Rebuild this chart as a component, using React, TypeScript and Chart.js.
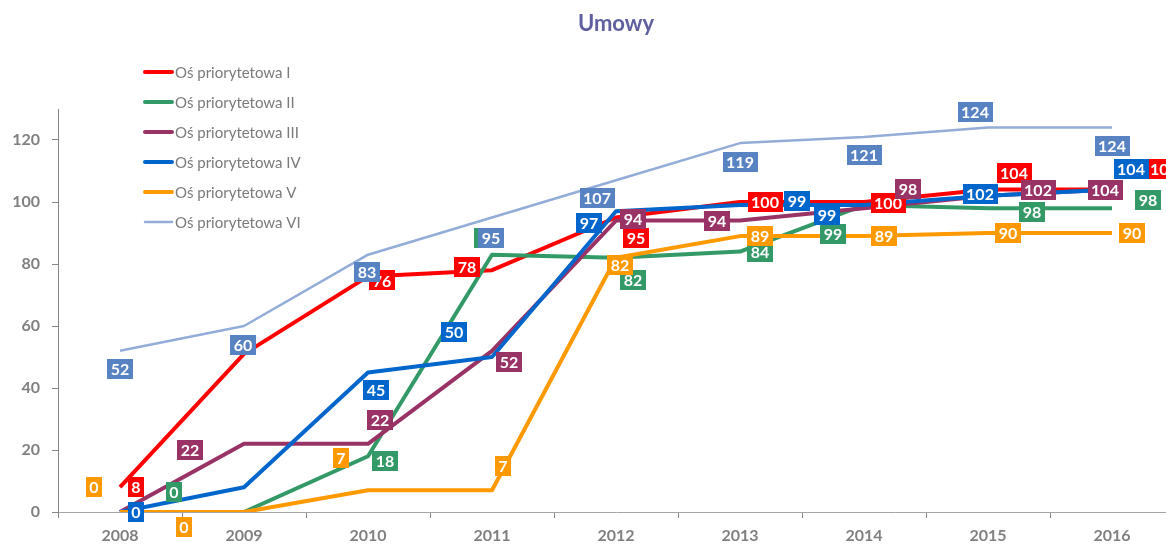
import React, { useEffect, useRef } from 'react';
import { Chart, registerables } from 'chart.js';

Chart.register(...registerables);

const YEARS = ['2008', '2009', '2010', '2011', '2012', '2013', '2014', '2015', '2016'];

const OS_I = [8, 51, 76, 78, 95, 100, 100, 104, 104];
const OS_II = [0, 0, 18, 83, 82, 84, 99, 98, 98];
const OS_III = [0, 22, 22, 52, 94, 94, 98, 102, 104];
const OS_IV = [0, 8, 45, 50, 97, 99, 99, 102, 104];
const OS_V = [0, 0, 7, 7, 82, 89, 89, 90, 90];
const OS_VI = [52, 60, 83, 95, 107, 119, 121, 124, 124];

const SERIES_NAMES = [
  'Oś priorytetowa I',
  'Oś priorytetowa II',
  'Oś priorytetowa III',
  'Oś priorytetowa IV',
  'Oś priorytetowa V',
  'Oś priorytetowa VI',
];

const Y_TICKS_MAX = 120;
const Y_AXIS_MAX = 130;
const TITLE = 'Umowy';

// styles
const LINE_COLORS = ['#FF0000', '#339966', '#993366', '#0066CC', '#FF9900', '#93ACD8'];
const LABEL_COLORS = ['#FF0000', '#339966', '#993366', '#0066CC', '#FF9900', '#5883C2'];
const LINE_WIDTHS = [4, 4, 4, 4, 4, 2.5];

// data-label offsets (px) relative to each point; null = no label shown
type Off = [number, number] | null;
const LABEL_OFFSETS: Off[][] = [
  [[16, 0], null, [14, 4], [-25, -3], [20, 20], [25, 0], [24, 1], [26, -17], [52, -21]],
  [[54, -20], null, [17, 5], [-5, -17], [17, 22], [20, 0], [-31, 29], [44, 4], [36, -8]],
  [null, [-54, 6], [12, -24], [17, 11], [17, -2], [-23, 0], [44, -19], [50, -6], [-7, 0]],
  [[16, 0], null, [8, 17], [-38, -25], [-27, 12], [57, -4], [-37, 10], [-8, -2], [19, -21]],
  [[-26, -25], [-60, 15], [-27, -32], [11, -24], [4, 7], [20, 0], [20, 0], [20, 0], [20, 0]],
  [[0, 18], [-1, 19], [-1, 17], [-1, 20], [-19, 18], [0, 19], [0, 18], [-13, -16], [0, 18]],
];

const CANVAS_W = 1190;
const CANVAS_H = 545;
const FONT = 'Lato, "Open Sans", "DejaVu Sans", sans-serif';

const boxLabels = {
  id: 'boxLabels',
  afterDatasetsDraw(chart: any) {
    const ctx = chart.ctx;
    ctx.save();
    ctx.font = `bold 16px ${FONT}`;
    ctx.textAlign = 'center';
    ctx.textBaseline = 'middle';
    chart.data.datasets.forEach((ds: any, i: number) => {
      const meta = chart.getDatasetMeta(i);
      const offs = LABEL_OFFSETS[i];
      meta.data.forEach((pt: any, j: number) => {
        const off = offs[j];
        if (!off) return;
        const x = pt.x + off[0];
        const y = pt.y + off[1];
        const text = String(ds.data[j]);
        const w = Math.round(ctx.measureText(text).width + 7);
        const h = 20;
        ctx.fillStyle = LABEL_COLORS[i];
        ctx.fillRect(Math.round(x - w / 2), Math.round(y - h / 2), w, h);
        ctx.fillStyle = '#FFFFFF';
        ctx.fillText(text, x, y + 1);
      });
    });
    ctx.restore();
  },
};

const legendAndTitle = {
  id: 'legendAndTitle',
  afterDraw(chart: any) {
    const ctx = chart.ctx;
    const area = chart.chartArea;
    ctx.save();
    // title
    ctx.font = `bold 22px ${FONT}`;
    ctx.fillStyle = '#5F5F9F';
    ctx.textAlign = 'center';
    ctx.textBaseline = 'middle';
    ctx.fillText(TITLE, (area.left + area.right) / 2, 24);
    // legend
    ctx.font = `15px ${FONT}`;
    ctx.textAlign = 'left';
    chart.data.datasets.forEach((ds: any, i: number) => {
      const y = 72 + i * 30;
      ctx.strokeStyle = ds.borderColor;
      ctx.lineWidth = ds.borderWidth;
      ctx.lineCap = 'round';
      ctx.beginPath();
      ctx.moveTo(145, y);
      ctx.lineTo(172, y);
      ctx.stroke();
      ctx.fillStyle = '#7A7A7A';
      ctx.fillText(ds.label, 175, y + 1);
    });
    ctx.restore();
  },
};

export default function App() {
  const ref = useRef<HTMLCanvasElement | null>(null);

  useEffect(() => {
    if (!ref.current) return;
    const series = [OS_I, OS_II, OS_III, OS_IV, OS_V, OS_VI];
    const chart = new Chart(ref.current, {
      type: 'line',
      data: {
        labels: YEARS,
        datasets: series.map((d, i) => ({
          label: SERIES_NAMES[i],
          data: d,
          borderColor: LINE_COLORS[i],
          backgroundColor: LINE_COLORS[i],
          borderWidth: LINE_WIDTHS[i],
          pointRadius: 0,
          tension: 0,
          borderJoinStyle: 'round' as const,
          fill: false,
          order: series.length - 1 - i,
        })),
      },
      options: {
        responsive: false,
        animation: false,
        devicePixelRatio: 1,
        layout: { padding: { top: 109, right: 16, left: 0, bottom: 0 } },
        plugins: {
          legend: { display: false },
          title: { display: false },
          tooltip: { enabled: false },
        },
        scales: {
          x: {
            type: 'category',
            offset: true,
            grid: {
              offset: true,
              drawOnChartArea: false,
              drawTicks: true,
              tickLength: 6,
              color: '#868686',
            },
            border: { display: true, color: '#A6A6A6', width: 1 },
            ticks: {
              color: '#808080',
              font: { family: FONT, size: 16, weight: 'bold' },
              padding: 8,
              maxRotation: 0,
            },
            afterFit: (scale: any) => {
              scale.height = 33;
            },
          },
          y: {
            min: 0,
            max: Y_AXIS_MAX,
            grid: {
              drawOnChartArea: false,
              drawTicks: true,
              tickLength: 6,
              color: '#868686',
            },
            border: { display: true, color: '#868686', width: 1 },
            ticks: {
              stepSize: 20,
              color: '#808080',
              font: { family: FONT, size: 16, weight: 'bold' },
              padding: 12,
            },
            afterBuildTicks: (scale: any) => {
              scale.ticks = scale.ticks.filter((t: any) => t.value <= Y_TICKS_MAX);
            },
            afterFit: (scale: any) => {
              scale.width = 58;
            },
          },
        },
      },
      plugins: [boxLabels, legendAndTitle],
    });
    return () => chart.destroy();
  }, []);

  return (
    <div
      style={{
        position: 'fixed',
        left: 0,
        top: 0,
        width: 1166,
        height: 545,
        overflow: 'hidden',
        background: '#FFFFFF',
      }}
    >
      <canvas
        ref={ref}
        width={CANVAS_W}
        height={CANVAS_H}
        style={{ width: CANVAS_W, height: CANVAS_H, display: 'block' }}
      />
    </div>
  );
}
